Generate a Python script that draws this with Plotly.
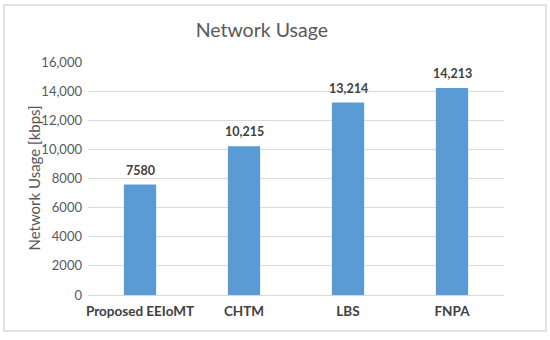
import plotly.graph_objects as go

categories = ['Proposed EEIoMT', 'CHTM', 'LBS', 'FNPA']
usage = [7580, 10215, 13214, 14213]
value_labels = ['7580', '10,215', '13,214', '14,213']
y_ticks = [0, 2000, 4000, 6000, 8000, 10000, 12000, 14000, 16000]
y_tick_text = ['0', '2000', '4000', '6000', '8000', '10,000', '12,000', '14,000', '16,000']

font_family = 'Lato, sans-serif'

fig = go.Figure(go.Bar(
    x=categories,
    y=usage,
    marker=dict(color='#5B9BD5', line=dict(width=0)),
    width=0.31,
))

# value labels above each bar
for cat, val, label in zip(categories, usage, value_labels):
    fig.add_annotation(
        x=cat, y=val,
        text=f'<b>{label}</b>',
        showarrow=False,
        yanchor='bottom',
        yshift=5,
        font=dict(size=12.5, color='#404040', family=font_family),
    )

# y axis title as a rotated annotation so it sits where the original has it
fig.add_annotation(
    x=-0.132, y=0.5, xref='paper', yref='paper',
    text='Network Usage [kbps]',
    textangle=-90,
    showarrow=False,
    xanchor='center', yanchor='middle',
    font=dict(size=15, color='#595959', family=font_family),
)

fig.update_layout(
    width=550,
    height=340,
    margin=dict(l=88, r=46, t=62, b=45),
    paper_bgcolor='white',
    plot_bgcolor='white',
    showlegend=False,
    font=dict(family=font_family),
    title=dict(
        text='Network Usage',
        x=0.476, xanchor='center',
        y=0.912, yanchor='middle',
        font=dict(size=19.5, color='#595959', family=font_family),
    ),
    xaxis=dict(
        showgrid=False,
        showline=True,
        linecolor='#d9d9d9',
        tickprefix='<b>',
        ticksuffix='</b>',
        tickfont=dict(size=13.5, color='#404040', family=font_family),
        ticks='',
        ticklabelstandoff=4,
    ),
    yaxis=dict(
        range=[0, 16000],
        tickvals=y_ticks,
        ticktext=y_tick_text,
        showgrid=True,
        gridcolor='#d9d9d9',
        zeroline=False,
        tickfont=dict(size=13, color='#595959', family=font_family),
        ticklabelstandoff=5,
    ),
)

# light grey frame round the whole chart
fig.add_shape(
    type='rect', xref='paper', yref='paper',
    x0=-0.2019, x1=1.101, y0=-0.1545, y1=1.2446,
    line=dict(color='#d9d9d9', width=1.5),
)

# drop the default 8px body margin so the figure fills the window
fig.write_html('out.html', config={'displayModeBar': False},
               post_script="document.body.style.margin='0px';")
